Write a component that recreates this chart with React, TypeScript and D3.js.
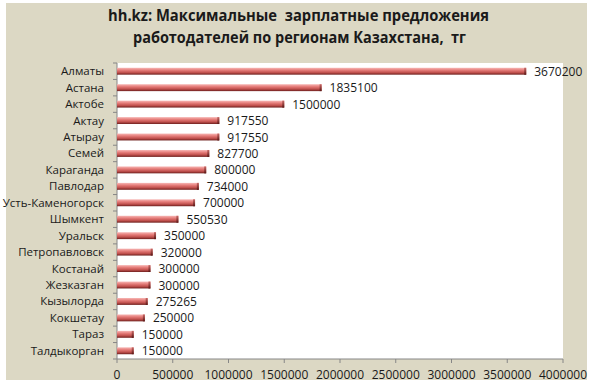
import * as React from "react"
import * as d3 from "d3"

const regions = [
  "Алматы", "Астана", "Актобе", "Актау", "Атырау", "Семей", "Караганда", "Павлодар",
  "Усть-Каменогорск", "Шымкент", "Уральск", "Петропавловск", "Костанай", "Жезказган",
  "Кызылорда", "Кокшетау", "Тараз", "Талдыкорган",
]
const salaries = [
  3670200, 1835100, 1500000, 917550, 917550, 827700, 800000, 734000,
  700000, 550530, 350000, 320000, 300000, 300000, 275265, 250000, 150000, 150000,
]
const xTicks = [0, 500000, 1000000, 1500000, 2000000, 2500000, 3000000, 3500000, 4000000]
const titleLines = ["hh.kz: Максимальные  зарплатные предложения", "работодателей по регионам Казахстана,  тг"]

const W = 593
const H = 387
const plot = { left: 117, right: 563, top: 63, bottom: 359 }
const font = "'Open Sans', 'Noto Sans', sans-serif"
const titleWidths = [381, 333]

const App = (): JSX.Element => {
  const x = d3.scaleLinear().domain([0, 4000000]).range([plot.left, plot.right])
  const y = d3.scaleBand().domain(regions).range([plot.top, plot.bottom]).paddingInner(0.58).paddingOuter(0.29)
  const bh = y.bandwidth()

  React.useEffect(() => {
    document.body.style.margin = "0"
  }, [])

  return (
    <svg width={W} height={H} style={{ display: "block" }}>
      <defs>
        <linearGradient id="barGrad" x1="0" y1="0" x2="0" y2="1">
          <stop offset="0" stopColor="#f7b8b6" />
          <stop offset="0.35" stopColor="#e57c79" />
          <stop offset="0.7" stopColor="#c0504d" />
          <stop offset="1" stopColor="#6e1f1d" />
        </linearGradient>
        <linearGradient id="capGrad" x1="0" y1="0" x2="0" y2="1">
          <stop offset="0" stopColor="#c96a67" />
          <stop offset="1" stopColor="#5a1614" />
        </linearGradient>
      </defs>
      <rect x={0} y={0} width={W} height={H} fill="#ffffff" />
      <rect x={6} y={3} width={581} height={377} fill="#dcd8c4" />
      <rect x={plot.left} y={plot.top} width={plot.right - plot.left} height={plot.bottom - plot.top} fill="#ffffff" />

      {titleLines.map((t, i) => (
        <text key={t} x={i === 0 ? 298.5 : 299.5} y={21 + i * 22} textAnchor="middle" fontFamily={font}
          fontWeight="bold" fontSize={16} fill="#1a1a1a" xmlSpace="preserve"
          textLength={titleWidths[i]} lengthAdjust="spacingAndGlyphs">{t}</text>
      ))}

      {/* axes */}
      <line x1={plot.left} x2={plot.left} y1={plot.top} y2={plot.bottom} stroke="#868686" />
      <line x1={plot.left} x2={plot.right} y1={plot.bottom} y2={plot.bottom} stroke="#868686" />
      {d3.range(regions.length + 1).map(i => {
        const yy = plot.top + (i * (plot.bottom - plot.top)) / regions.length
        return <line key={"yt" + i} x1={plot.left - 4} x2={plot.left} y1={yy} y2={yy} stroke="#868686" />
      })}
      {xTicks.map(t => (
        <g key={"xt" + t}>
          <line x1={x(t)} x2={x(t)} y1={plot.bottom} y2={plot.bottom + 4} stroke="#868686" />
          <text x={x(t)} y={plot.bottom + 20} textAnchor="middle" fontFamily={font} fontSize={12} fill="#1a1a1a">{t}</text>
        </g>
      ))}

      {regions.map((r, i) => {
        const yy = y(r) as number
        const v = salaries[i]
        return (
          <g key={r}>
            <text x={plot.left - 13} y={yy + bh / 2 + 4} textAnchor="end" fontFamily={font} fontSize={11.5} fill="#1a1a1a">{r}</text>
            <rect x={x(0)} y={yy} width={x(v) - x(0)} height={bh} fill="url(#barGrad)" />
            <rect x={x(v) - 2} y={yy} width={2} height={bh} fill="url(#capGrad)" />
            <text x={x(v) + 8} y={yy + bh / 2 + 4.5} fontFamily={font} fontSize={12} fill="#1a1a1a">{v}</text>
          </g>
        )
      })}
    </svg>
  )
}

export default App
